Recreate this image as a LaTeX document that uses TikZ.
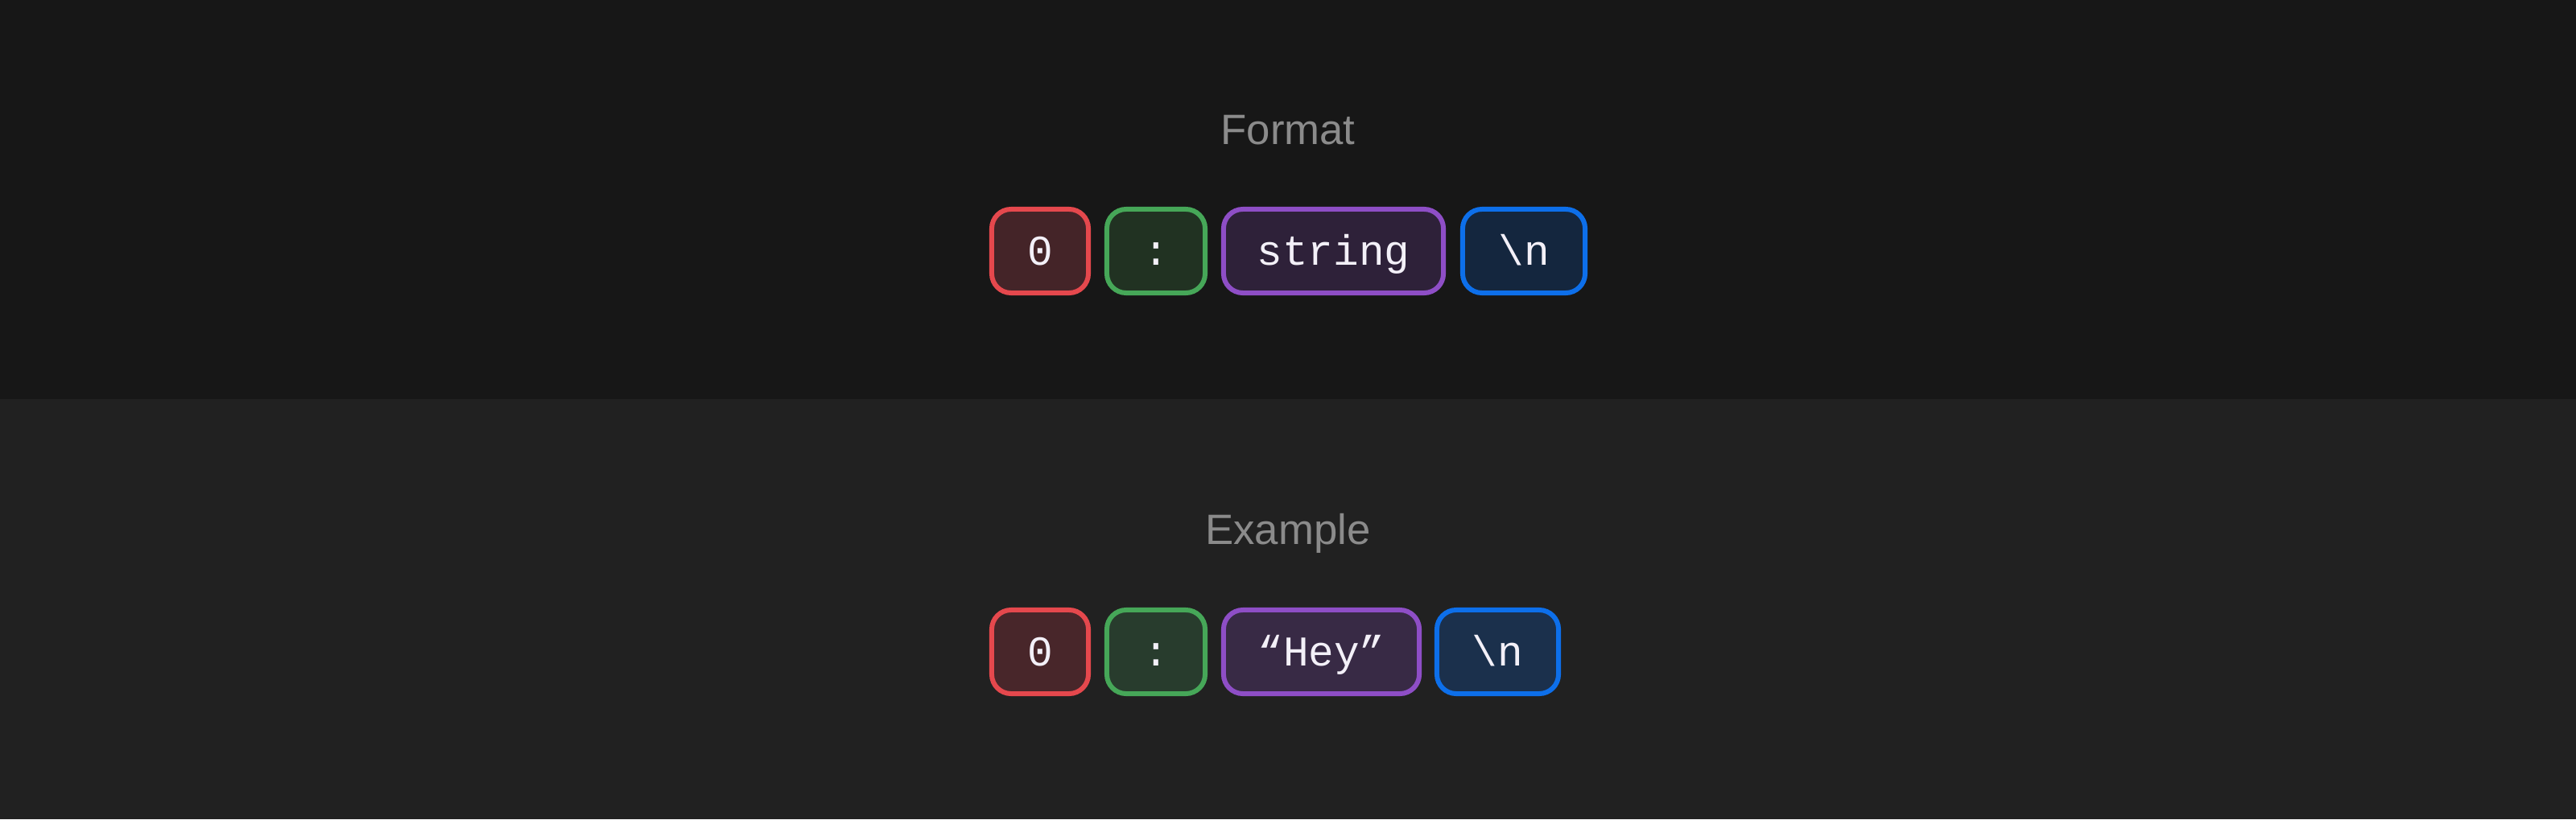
\documentclass[tikz,border=0pt]{standalone}
\usepackage{fontspec}
\setmainfont{Liberation Sans}
\setmonofont{Liberation Mono}
\usepackage{tikz}

\definecolor{bgtop}{HTML}{171717}
\definecolor{bgbottom}{HTML}{212121}
\definecolor{captiongray}{HTML}{8B8B8B}
\definecolor{tokentext}{HTML}{F3F0F8}
\definecolor{zerored}{HTML}{E5484D}
\definecolor{colongreen}{HTML}{46A758}
\definecolor{stringpurple}{HTML}{8E4EC6}
\definecolor{newlineblue}{HTML}{0D6FEA}
\definecolor{zerofill}{HTML}{442428}
\definecolor{colonfill}{HTML}{213222}
\definecolor{stringfill}{HTML}{2E2139}
\definecolor{newlinefill}{HTML}{14263E}
\definecolor{zerofillb}{HTML}{48262A}
\definecolor{colonfillb}{HTML}{283C2D}
\definecolor{stringfillb}{HTML}{382A45}
\definecolor{newlinefillb}{HTML}{1B304C}

\begin{document}
\begin{tikzpicture}[x=0.01cm,y=-0.01cm,
  tok/.style={draw, line width=0.06cm, rounded corners=0.24cm, minimum height=1.04cm,
    inner sep=0pt, text=tokentext, font=\ttfamily\fontsize{15}{18}\selectfont,
    text height=10.2pt, text depth=0pt},
  caption/.style={text=captiongray, font=\fontsize{15}{18}\selectfont, anchor=base}]

\fill[bgtop] (0,0) rectangle (3200,496);
\fill[bgbottom] (0,496) rectangle (3200,1018);

\node[caption] (format) at (1600,179) {Format};

\node[tok, draw=zerored, fill=zerofill, minimum width=1.20cm] (fmtzero) at (1292,312) {0};
\node[tok, draw=colongreen, fill=colonfill, minimum width=1.22cm] (fmtcolon) at (1436,312) {:};
\node[tok, draw=stringpurple, fill=stringfill, minimum width=2.73cm] (fmtstring) at (1656.5,312) {string};
\node[tok, draw=newlineblue, fill=newlinefill, minimum width=1.52cm] (fmtnewline) at (1893,312) {\textbackslash n};

\node[caption] (example) at (1600,676) {Example};

\node[tok, draw=zerored, fill=zerofillb, minimum width=1.20cm] (exzero) at (1292,810) {0};
\node[tok, draw=colongreen, fill=colonfillb, minimum width=1.22cm] (excolon) at (1436,810) {:};
\node[tok, draw=stringpurple, fill=stringfillb, minimum width=2.43cm] (exstring) at (1641.5,810) {“Hey”};
\node[tok, draw=newlineblue, fill=newlinefillb, minimum width=1.51cm] (exnewline) at (1860.5,810) {\textbackslash n};

\end{tikzpicture}
\end{document}
